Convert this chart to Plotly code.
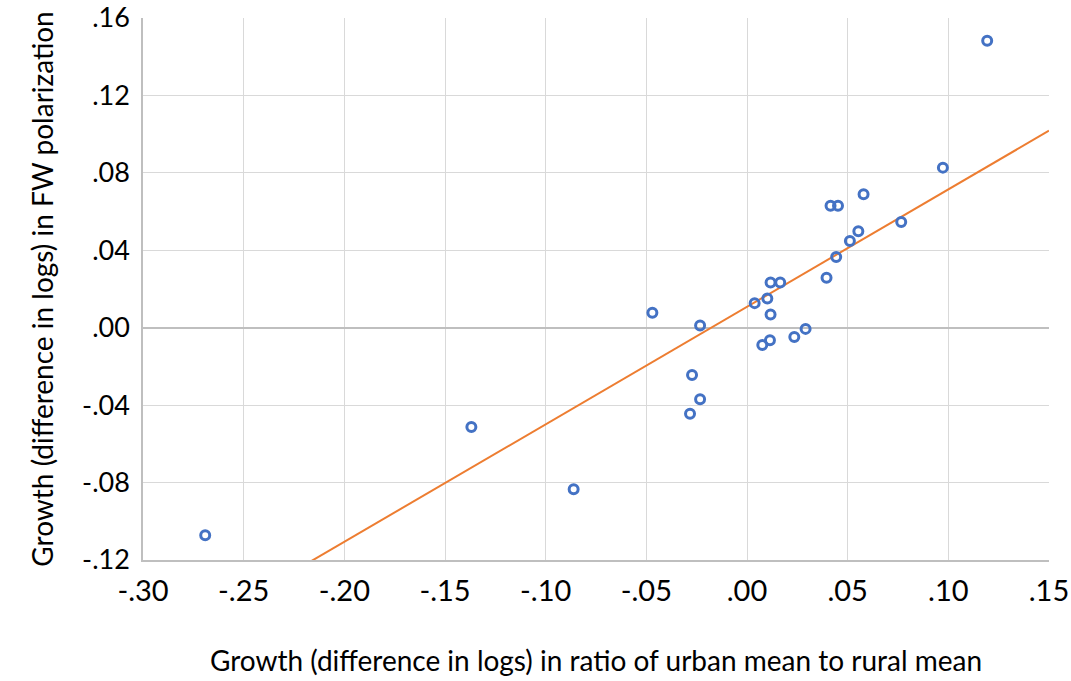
import numpy as np
import plotly.graph_objects as go

x_vals = [0.1193, 0.0973, 0.0415, 0.0452, 0.0579, 0.0766, 0.0553, 0.0511, 0.0443,
          0.0395, 0.0117, 0.0165, 0.0038, 0.0101, 0.0117, -0.0470, -0.0233, 0.0291,
          0.0235, 0.0114, 0.0076, -0.0273, -0.0233, -0.0283, -0.1369, -0.0861, -0.2691]
y_vals = [0.1483, 0.0827, 0.0630, 0.0630, 0.0689, 0.0546, 0.0498, 0.0448, 0.0365,
          0.0258, 0.0234, 0.0234, 0.0127, 0.0151, 0.0068, 0.0077, 0.0011, -0.0006,
          -0.0048, -0.0065, -0.0089, -0.0244, -0.0370, -0.0444, -0.0513, -0.0834, -0.1072]

x_ticks = [-0.30, -0.25, -0.20, -0.15, -0.10, -0.05, 0.00, 0.05, 0.10, 0.15]
x_ticktext = ["-.30", "-.25", "-.20", "-.15", "-.10", "-.05", ".00", ".05", ".10", ".15"]
y_ticks = [-0.12, -0.08, -0.04, 0.00, 0.04, 0.08, 0.12, 0.16]
y_ticktext = ["-.12", "-.08", "-.04", ".00", ".04", ".08", ".12", ".16"]

x_title = "Growth (difference in logs) in ratio of urban mean to rural mean"
y_title = "Growth (difference in logs) in FW polarization"

# linear trend line fitted to the data
slope, intercept = np.polyfit(x_vals, y_vals, 1)
line_x = [x_ticks[0], x_ticks[-1]]
line_y = [slope * v + intercept for v in line_x]

fig = go.Figure()
fig.add_trace(go.Scatter(
    x=line_x, y=line_y, mode="lines",
    line=dict(color="#ED7D31", width=2),
    hoverinfo="skip", showlegend=False,
))
fig.add_trace(go.Scatter(
    x=x_vals, y=y_vals, mode="markers",
    marker=dict(symbol="circle-open", size=9, color="#4472C4",
                line=dict(width=3, color="#4472C4")),
    showlegend=False,
))

font_family = "Lato, Carlito, 'Open Sans', sans-serif"
fig.update_layout(
    width=1071, height=681,
    margin=dict(l=143, r=22, t=18, b=121),
    paper_bgcolor="white", plot_bgcolor="white",
    font=dict(family=font_family, color="#000000"),
    xaxis=dict(
        range=[-0.30, 0.15], tickvals=x_ticks, ticktext=x_ticktext,
        showgrid=True, gridcolor="#D9D9D9", gridwidth=1,
        zeroline=False, showline=True, linecolor="#BFBFBF", linewidth=1.5,
        tickfont=dict(size=29), ticks="", ticklabelstandoff=4,
        ticklabeloverflow="allow", automargin=False,
        title=dict(text=x_title, font=dict(size=28), standoff=46),
    ),
    yaxis=dict(
        range=[-0.12, 0.16], tickvals=y_ticks, ticktext=y_ticktext,
        showgrid=True, gridcolor="#D9D9D9", gridwidth=1,
        zeroline=True, zerolinecolor="#BFBFBF", zerolinewidth=1.5,
        showline=True, linecolor="#BFBFBF", linewidth=1.5,
        tickfont=dict(size=27), ticks="", ticklabelstandoff=6,
        ticklabeloverflow="allow", automargin=False,
        title=dict(text=y_title, font=dict(size=28), standoff=20),
    ),
)

fig.write_html("out.html")
